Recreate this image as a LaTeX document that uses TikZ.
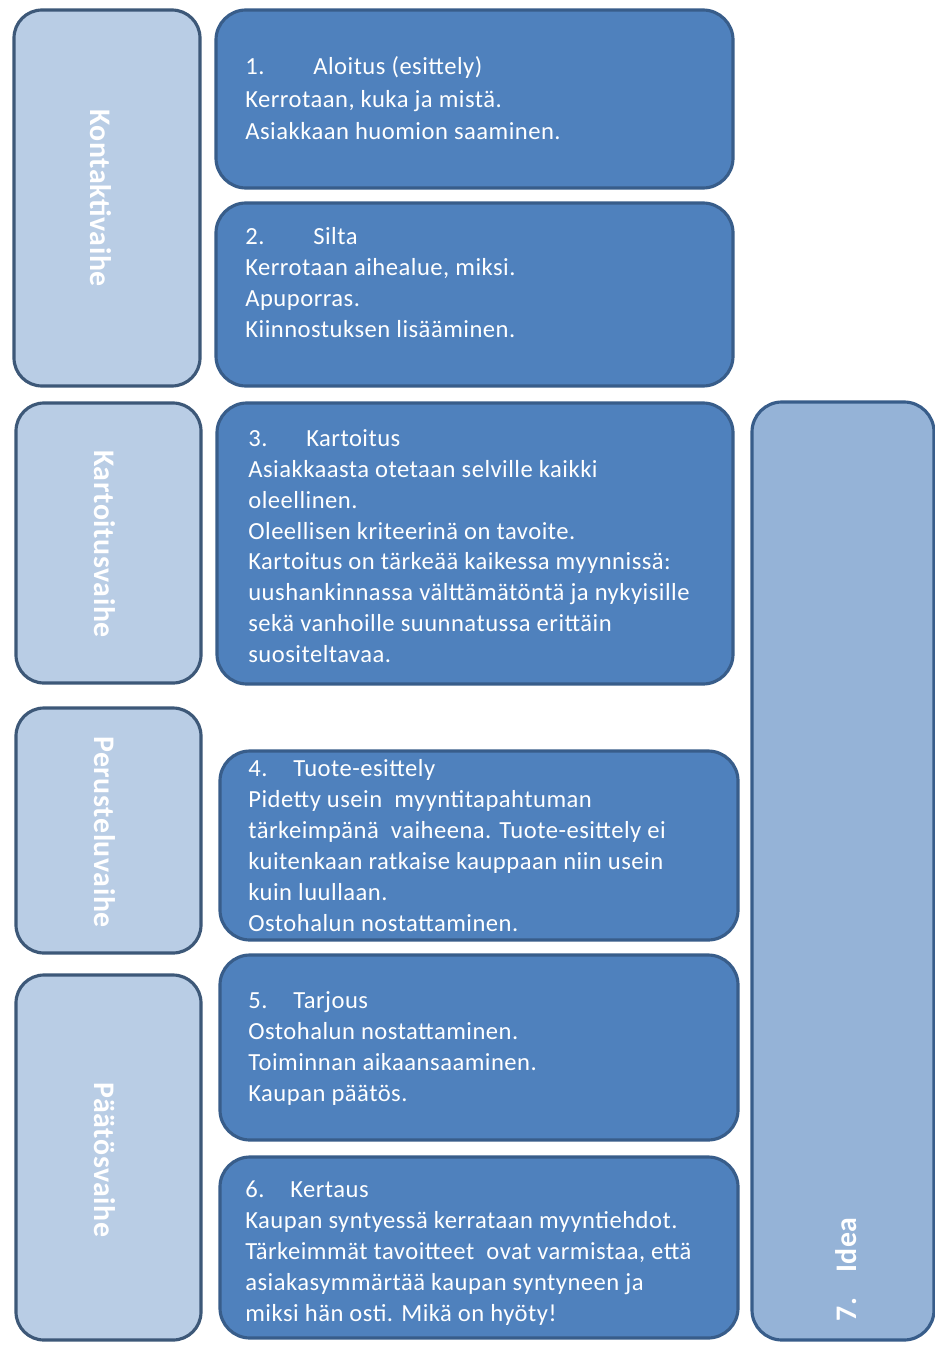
\documentclass[tikz,border=0pt]{standalone}
\usepackage{fontspec}
\setmainfont{Carlito}
\newfontfamily\stepfont[LetterSpace=2]{Carlito}
\newfontfamily\phasefont[LetterSpace=2]{Carlito}
\usetikzlibrary{fit}
\definecolor{phasefill}{HTML}{B9CDE5}
\definecolor{phaseline}{HTML}{3D5878}
\definecolor{stepfill}{HTML}{4F81BD}
\definecolor{stepline}{HTML}{385D8A}
\definecolor{ideafill}{HTML}{95B3D7}
\newcommand{\stepno}[1]{\makebox[0pt][l]{#1}}
\begin{document}
\begin{tikzpicture}[x=0.02cm,y=-0.02cm,
  phasebox/.style={draw=phaseline,fill=phasefill,line width=1.8pt,rounded corners=0.56cm,inner sep=0pt},
  stepbox/.style={draw=stepline,fill=stepfill,line width=1.8pt,rounded corners=0.6cm,inner sep=0pt},
  ideabox/.style={draw=stepline,fill=ideafill,line width=1.8pt,rounded corners=0.6cm,inner sep=0pt},
  phaselabel/.style={text=white,font=\phasefont\fontsize{17}{20}\selectfont\bfseries,rotate=-90,inner sep=0pt},
  steptext/.style={text=white,anchor=north west,align=left,inner sep=0pt,
    font=\stepfont\fontsize{14}{17.6}\selectfont},
]
\useasboundingbox[fill=white] (0,0) rectangle (934,1345);

% phase column
\node[phasebox,fit={(14,10) (200,386)}] (p1) {};
\node[phasebox,fit={(16,403) (201,683)}] (p2) {};
\node[phasebox,fit={(16,708) (201,953)}] (p3) {};
\node[phasebox,fit={(16,975) (201,1340)}] (p4) {};
\node[phaselabel] at (101,198) (l1) {Kontaktivaihe};
\node[phaselabel] at (105,544) (l2) {Kartoitusvaihe};
\node[phaselabel] at (105,832) (l3) {Perusteluvaihe};
\node[phaselabel] at (105,1160) (l4) {Päätösvaihe};

% steps
\node[stepbox,fit={(216,10) (733,188)}] (s1) {};
\node[stepbox,fit={(216,203) (733,386)}] (s2) {};
\node[stepbox,fit={(217,403) (733,684)}] (s3) {};
\node[stepbox,fit={(220,751) (738,940)}] (s4) {};
\node[stepbox,fit={(220,955) (738,1140)}] (s5) {};
\node[stepbox,fit={(220,1157) (738,1338)}] (s6) {};

% idea column
\node[ideabox,fit={(752,402) (934,1340)}] (i7) {};
\node[text=white,font=\phasefont\fontsize{17}{20}\selectfont\bfseries,rotate=90,anchor=west,inner sep=0pt]
  at (846,1322) (l7) {7.\hspace{0.5cm}Idea};

\node[steptext,font=\stepfont\fontsize{14}{18.6}\selectfont] at (245,56) (t1) {\stepno{1.}\hspace{1.36cm}Aloitus (esittely)\\
Kerrotaan, kuka ja mistä.\\
Asiakkaan huomion saaminen.};
\node[steptext] at (245,227) (t2) {\stepno{2.}\hspace{1.36cm}Silta\\
Kerrotaan aihealue, miksi.\\
Apuporras.\\
Kiinnostuksen lisääminen.};
\node[steptext] at (248,429) (t3) {\stepno{3.}\hspace{1.16cm}Kartoitus\\
Asiakkaasta otetaan selville kaikki\\
oleellinen.\\
Oleellisen kriteerinä on tavoite.\\
Kartoitus on tärkeää kaikessa myynnissä:\\
uushankinnassa välttämätöntä ja nykyisille\\
sekä vanhoille suunnatussa erittäin\\
suositeltavaa.};
\node[steptext] at (248,759) (t4) {\stepno{4.}\hspace{0.9cm}Tuote-esittely\\
Pidetty usein\ \ myyntitapahtuman\\
tärkeimpänä\ \ vaiheena. Tuote-esittely ei\\
kuitenkaan ratkaise kauppaan niin usein\\
kuin luullaan.\\
Ostohalun nostattaminen.};
\node[steptext] at (248,991) (t5) {\stepno{5.}\hspace{0.9cm}Tarjous\\
Ostohalun nostattaminen.\\
Toiminnan aikaansaaminen.\\
Kaupan päätös.};
\node[steptext] at (245,1181) (t6) {\stepno{6.}\hspace{0.9cm}Kertaus\\
Kaupan syntyessä kerrataan myyntiehdot.\\
Tärkeimmät tavoitteet\ \ ovat varmistaa, että\\
asiakasymmärtää kaupan syntyneen ja\\
miksi hän osti. Mikä on hyöty!};
\end{tikzpicture}
\end{document}
